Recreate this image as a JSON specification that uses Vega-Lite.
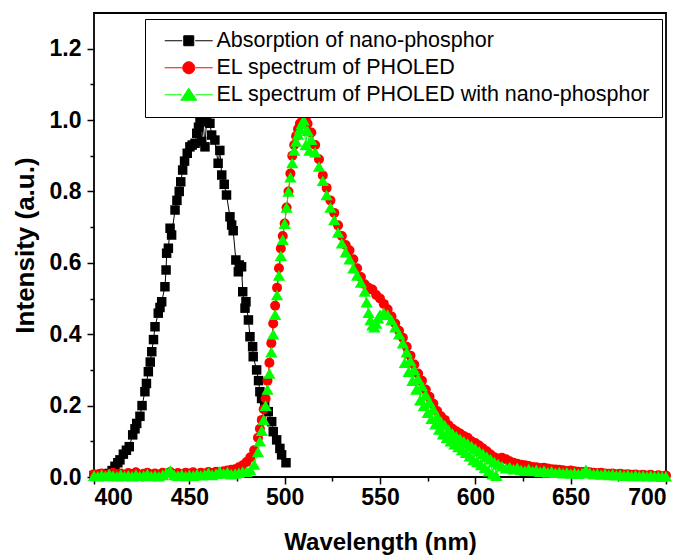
{
 "$schema": "https://vega.github.io/schema/vega-lite/v6.json",
 "width": 572, "height": 464,
 "autosize": "none",
 "padding": {"left": 94, "top": 13, "right": 22, "bottom": 81},
 "background": "white",
 "config": {"view": {"stroke": "black", "strokeWidth": 1.8}, "font": "Liberation Sans"},
 "data": {"values": [
{"s":"abs","x":400,"y":0.004},{"s":"abs","x":402,"y":0.006},{"s":"abs","x":404,"y":0.008},{"s":"abs","x":406,"y":0.006},{"s":"abs","x":408,"y":0.01},{"s":"abs","x":409.5,"y":0.018},{"s":"abs","x":411,"y":0.03},{"s":"abs","x":412.5,"y":0.04},{"s":"abs","x":413.6,"y":0.048},{"s":"abs","x":415.4,"y":0.064},{"s":"abs","x":417,"y":0.075},{"s":"abs","x":418.5,"y":0.085},{"s":"abs","x":420.3,"y":0.118},{"s":"abs","x":421.5,"y":0.135},{"s":"abs","x":422.4,"y":0.15},{"s":"abs","x":424.1,"y":0.17},{"s":"abs","x":425.2,"y":0.2},{"s":"abs","x":426.7,"y":0.239},{"s":"abs","x":427.5,"y":0.262},{"s":"abs","x":428.5,"y":0.295},{"s":"abs","x":429.5,"y":0.322},{"s":"abs","x":430.3,"y":0.351},{"s":"abs","x":431.2,"y":0.385},{"s":"abs","x":432,"y":0.421},{"s":"abs","x":433.7,"y":0.459},{"s":"abs","x":434.6,"y":0.475},{"s":"abs","x":435.5,"y":0.491},{"s":"abs","x":437.2,"y":0.533},{"s":"abs","x":437.8,"y":0.58},{"s":"abs","x":438.1,"y":0.627},{"s":"abs","x":439,"y":0.641},{"s":"abs","x":439.9,"y":0.697},{"s":"abs","x":440.7,"y":0.678},{"s":"abs","x":442.5,"y":0.748},{"s":"abs","x":443.5,"y":0.775},{"s":"abs","x":444.7,"y":0.8},{"s":"abs","x":445.5,"y":0.827},{"s":"abs","x":446.5,"y":0.86},{"s":"abs","x":447.5,"y":0.885},{"s":"abs","x":448.9,"y":0.907},{"s":"abs","x":450.3,"y":0.925},{"s":"abs","x":451.5,"y":0.93},{"s":"abs","x":453,"y":0.935},{"s":"abs","x":453.9,"y":0.963},{"s":"abs","x":454.8,"y":0.98},{"s":"abs","x":455.6,"y":1.0},{"s":"abs","x":456.5,"y":0.94},{"s":"abs","x":457.3,"y":0.995},{"s":"abs","x":458.2,"y":0.925},{"s":"abs","x":459,"y":0.998},{"s":"abs","x":460.8,"y":0.991},{"s":"abs","x":461.7,"y":0.958},{"s":"abs","x":463.4,"y":0.944},{"s":"abs","x":465.1,"y":0.879},{"s":"abs","x":466,"y":0.915},{"s":"abs","x":467,"y":0.846},{"s":"abs","x":468.3,"y":0.82},{"s":"abs","x":469.5,"y":0.79},{"s":"abs","x":471.3,"y":0.729},{"s":"abs","x":472.2,"y":0.706},{"s":"abs","x":473,"y":0.69},{"s":"abs","x":474.4,"y":0.608},{"s":"abs","x":475.7,"y":0.575},{"s":"abs","x":476.2,"y":0.594},{"s":"abs","x":477.4,"y":0.589},{"s":"abs","x":478,"y":0.519},{"s":"abs","x":479.2,"y":0.473},{"s":"abs","x":479.7,"y":0.491},{"s":"abs","x":481,"y":0.44},{"s":"abs","x":481.8,"y":0.393},{"s":"abs","x":483.2,"y":0.365},{"s":"abs","x":483.5,"y":0.337},{"s":"abs","x":485.3,"y":0.3},{"s":"abs","x":486.3,"y":0.27},{"s":"abs","x":487,"y":0.239},{"s":"abs","x":487.9,"y":0.22},{"s":"abs","x":489.5,"y":0.2},{"s":"abs","x":491.4,"y":0.183},{"s":"abs","x":493.2,"y":0.155},{"s":"abs","x":494,"y":0.127},{"s":"abs","x":495.8,"y":0.104},{"s":"abs","x":497.5,"y":0.08},{"s":"abs","x":498.4,"y":0.062},{"s":"abs","x":500.7,"y":0.04},
{"s":"el","x":400,"y":0.008},{"s":"el","x":402,"y":0.006},{"s":"el","x":404,"y":0.01},{"s":"el","x":406,"y":0.005},{"s":"el","x":408,"y":0.009},{"s":"el","x":410,"y":0.012},{"s":"el","x":412,"y":0.007},{"s":"el","x":414,"y":0.01},{"s":"el","x":416,"y":0.006},{"s":"el","x":418,"y":0.011},{"s":"el","x":420,"y":0.008},{"s":"el","x":422,"y":0.013},{"s":"el","x":424,"y":0.006},{"s":"el","x":426,"y":0.009},{"s":"el","x":428,"y":0.012},{"s":"el","x":430,"y":0.007},{"s":"el","x":432,"y":0.01},{"s":"el","x":434,"y":0.006},{"s":"el","x":436,"y":0.012},{"s":"el","x":438,"y":0.009},{"s":"el","x":440,"y":0.014},{"s":"el","x":442,"y":0.008},{"s":"el","x":444,"y":0.011},{"s":"el","x":446,"y":0.007},{"s":"el","x":448,"y":0.012},{"s":"el","x":450,"y":0.01},{"s":"el","x":452,"y":0.013},{"s":"el","x":454,"y":0.008},{"s":"el","x":456,"y":0.012},{"s":"el","x":458,"y":0.01},{"s":"el","x":460,"y":0.014},{"s":"el","x":462,"y":0.011},{"s":"el","x":464,"y":0.015},{"s":"el","x":466,"y":0.012},{"s":"el","x":468,"y":0.016},{"s":"el","x":470,"y":0.018},{"s":"el","x":472,"y":0.02},{"s":"el","x":474,"y":0.022},{"s":"el","x":476,"y":0.027},{"s":"el","x":478,"y":0.033},{"s":"el","x":480,"y":0.042},{"s":"el","x":482,"y":0.055},{"s":"el","x":484,"y":0.075},{"s":"el","x":486,"y":0.11},{"s":"el","x":487,"y":0.135},{"s":"el","x":488,"y":0.16},{"s":"el","x":489,"y":0.19},{"s":"el","x":490,"y":0.22},{"s":"el","x":491,"y":0.27},{"s":"el","x":492,"y":0.32},{"s":"el","x":493,"y":0.375},{"s":"el","x":494,"y":0.43},{"s":"el","x":495,"y":0.48},{"s":"el","x":496,"y":0.53},{"s":"el","x":497,"y":0.585},{"s":"el","x":498,"y":0.64},{"s":"el","x":499,"y":0.675},{"s":"el","x":500,"y":0.71},{"s":"el","x":501,"y":0.755},{"s":"el","x":502,"y":0.8},{"s":"el","x":503,"y":0.85},{"s":"el","x":504,"y":0.9},{"s":"el","x":505,"y":0.93},{"s":"el","x":506,"y":0.955},{"s":"el","x":507,"y":0.975},{"s":"el","x":508,"y":0.99},{"s":"el","x":509,"y":0.995},{"s":"el","x":510,"y":1.0},{"s":"el","x":511,"y":1.005},{"s":"el","x":512,"y":0.99},{"s":"el","x":514,"y":0.965},{"s":"el","x":516,"y":0.93},{"s":"el","x":518,"y":0.89},{"s":"el","x":520,"y":0.845},{"s":"el","x":522,"y":0.81},{"s":"el","x":524,"y":0.775},{"s":"el","x":526,"y":0.74},{"s":"el","x":528,"y":0.705},{"s":"el","x":530,"y":0.675},{"s":"el","x":532,"y":0.65},{"s":"el","x":534,"y":0.635},{"s":"el","x":536,"y":0.61},{"s":"el","x":538,"y":0.585},{"s":"el","x":540,"y":0.56},{"s":"el","x":542,"y":0.54},{"s":"el","x":544,"y":0.53},{"s":"el","x":546,"y":0.525},{"s":"el","x":548,"y":0.51},{"s":"el","x":550,"y":0.5},{"s":"el","x":552,"y":0.485},{"s":"el","x":554,"y":0.47},{"s":"el","x":556,"y":0.45},{"s":"el","x":558,"y":0.43},{"s":"el","x":560,"y":0.41},{"s":"el","x":562,"y":0.39},{"s":"el","x":564,"y":0.365},{"s":"el","x":566,"y":0.34},{"s":"el","x":568,"y":0.315},{"s":"el","x":570,"y":0.29},{"s":"el","x":572,"y":0.27},{"s":"el","x":574,"y":0.245},{"s":"el","x":576,"y":0.225},{"s":"el","x":578,"y":0.205},{"s":"el","x":580,"y":0.185},{"s":"el","x":582,"y":0.17},{"s":"el","x":584,"y":0.16},{"s":"el","x":586,"y":0.145},{"s":"el","x":588,"y":0.135},{"s":"el","x":590,"y":0.128},{"s":"el","x":592,"y":0.122},{"s":"el","x":594,"y":0.115},{"s":"el","x":596,"y":0.11},{"s":"el","x":598,"y":0.1},{"s":"el","x":600,"y":0.095},{"s":"el","x":602,"y":0.088},{"s":"el","x":604,"y":0.08},{"s":"el","x":606,"y":0.072},{"s":"el","x":608,"y":0.063},{"s":"el","x":610,"y":0.055},{"s":"el","x":612,"y":0.052},{"s":"el","x":614,"y":0.054},{"s":"el","x":616,"y":0.05},{"s":"el","x":618,"y":0.044},{"s":"el","x":620,"y":0.04},{"s":"el","x":622,"y":0.037},{"s":"el","x":624,"y":0.034},{"s":"el","x":626,"y":0.033},{"s":"el","x":628,"y":0.031},{"s":"el","x":630,"y":0.028},{"s":"el","x":632,"y":0.027},{"s":"el","x":634,"y":0.025},{"s":"el","x":636,"y":0.026},{"s":"el","x":638,"y":0.024},{"s":"el","x":640,"y":0.022},{"s":"el","x":642,"y":0.021},{"s":"el","x":644,"y":0.02},{"s":"el","x":646,"y":0.019},{"s":"el","x":648,"y":0.017},{"s":"el","x":650,"y":0.018},{"s":"el","x":652,"y":0.016},{"s":"el","x":654,"y":0.015},{"s":"el","x":656,"y":0.014},{"s":"el","x":658,"y":0.015},{"s":"el","x":660,"y":0.013},{"s":"el","x":662,"y":0.012},{"s":"el","x":664,"y":0.011},{"s":"el","x":666,"y":0.012},{"s":"el","x":668,"y":0.01},{"s":"el","x":670,"y":0.009},{"s":"el","x":672,"y":0.01},{"s":"el","x":674,"y":0.008},{"s":"el","x":676,"y":0.009},{"s":"el","x":678,"y":0.007},{"s":"el","x":680,"y":0.008},{"s":"el","x":682,"y":0.006},{"s":"el","x":684,"y":0.007},{"s":"el","x":686,"y":0.005},{"s":"el","x":688,"y":0.006},{"s":"el","x":690,"y":0.004},{"s":"el","x":692,"y":0.006},{"s":"el","x":694,"y":0.003},{"s":"el","x":696,"y":0.005},{"s":"el","x":698,"y":0.002},{"s":"el","x":700,"y":0.004},
{"s":"elnp","x":400,"y":0.004},{"s":"elnp","x":402,"y":0.002},{"s":"elnp","x":404,"y":0.006},{"s":"elnp","x":406,"y":0.003},{"s":"elnp","x":408,"y":0.008},{"s":"elnp","x":410,"y":0.004},{"s":"elnp","x":412,"y":0.002},{"s":"elnp","x":414,"y":0.007},{"s":"elnp","x":416,"y":0.003},{"s":"elnp","x":418,"y":0.005},{"s":"elnp","x":420,"y":0.002},{"s":"elnp","x":422,"y":0.006},{"s":"elnp","x":424,"y":0.003},{"s":"elnp","x":426,"y":0.004},{"s":"elnp","x":428,"y":0.008},{"s":"elnp","x":430,"y":0.003},{"s":"elnp","x":432,"y":0.005},{"s":"elnp","x":434,"y":0.002},{"s":"elnp","x":436,"y":0.006},{"s":"elnp","x":438,"y":0.012},{"s":"elnp","x":440,"y":0.018},{"s":"elnp","x":442,"y":0.006},{"s":"elnp","x":444,"y":0.004},{"s":"elnp","x":446,"y":0.007},{"s":"elnp","x":448,"y":0.003},{"s":"elnp","x":450,"y":0.006},{"s":"elnp","x":452,"y":0.004},{"s":"elnp","x":454,"y":0.008},{"s":"elnp","x":456,"y":0.005},{"s":"elnp","x":458,"y":0.007},{"s":"elnp","x":460,"y":0.012},{"s":"elnp","x":462,"y":0.006},{"s":"elnp","x":464,"y":0.009},{"s":"elnp","x":466,"y":0.016},{"s":"elnp","x":468,"y":0.01},{"s":"elnp","x":470,"y":0.014},{"s":"elnp","x":472,"y":0.008},{"s":"elnp","x":474,"y":0.01},{"s":"elnp","x":476,"y":0.012},{"s":"elnp","x":478,"y":0.015},{"s":"elnp","x":480,"y":0.015},{"s":"elnp","x":482,"y":0.02},{"s":"elnp","x":484,"y":0.035},{"s":"elnp","x":486,"y":0.07},{"s":"elnp","x":487,"y":0.1},{"s":"elnp","x":488,"y":0.13},{"s":"elnp","x":489,"y":0.16},{"s":"elnp","x":490,"y":0.2},{"s":"elnp","x":491,"y":0.245},{"s":"elnp","x":492,"y":0.29},{"s":"elnp","x":493,"y":0.35},{"s":"elnp","x":494,"y":0.4},{"s":"elnp","x":495,"y":0.455},{"s":"elnp","x":496,"y":0.51},{"s":"elnp","x":497,"y":0.565},{"s":"elnp","x":498,"y":0.62},{"s":"elnp","x":499,"y":0.665},{"s":"elnp","x":500,"y":0.71},{"s":"elnp","x":501,"y":0.755},{"s":"elnp","x":502,"y":0.8},{"s":"elnp","x":503,"y":0.84},{"s":"elnp","x":504,"y":0.88},{"s":"elnp","x":505,"y":0.915},{"s":"elnp","x":506,"y":0.94},{"s":"elnp","x":507,"y":0.96},{"s":"elnp","x":508,"y":0.975},{"s":"elnp","x":509,"y":0.99},{"s":"elnp","x":510,"y":1.0},{"s":"elnp","x":511,"y":0.93},{"s":"elnp","x":512,"y":0.97},{"s":"elnp","x":513,"y":0.915},{"s":"elnp","x":514,"y":0.945},{"s":"elnp","x":516,"y":0.91},{"s":"elnp","x":518,"y":0.87},{"s":"elnp","x":520,"y":0.83},{"s":"elnp","x":522,"y":0.79},{"s":"elnp","x":524,"y":0.755},{"s":"elnp","x":526,"y":0.72},{"s":"elnp","x":528,"y":0.685},{"s":"elnp","x":530,"y":0.655},{"s":"elnp","x":532,"y":0.63},{"s":"elnp","x":534,"y":0.61},{"s":"elnp","x":536,"y":0.585},{"s":"elnp","x":538,"y":0.565},{"s":"elnp","x":540,"y":0.545},{"s":"elnp","x":542,"y":0.52},{"s":"elnp","x":543,"y":0.49},{"s":"elnp","x":544,"y":0.46},{"s":"elnp","x":545,"y":0.44},{"s":"elnp","x":546,"y":0.425},{"s":"elnp","x":547,"y":0.42},{"s":"elnp","x":548,"y":0.43},{"s":"elnp","x":549,"y":0.445},{"s":"elnp","x":550,"y":0.455},{"s":"elnp","x":552,"y":0.46},{"s":"elnp","x":554,"y":0.455},{"s":"elnp","x":556,"y":0.44},{"s":"elnp","x":558,"y":0.42},{"s":"elnp","x":560,"y":0.4},{"s":"elnp","x":562,"y":0.375},{"s":"elnp","x":563,"y":0.32},{"s":"elnp","x":564,"y":0.35},{"s":"elnp","x":565,"y":0.295},{"s":"elnp","x":566,"y":0.325},{"s":"elnp","x":567,"y":0.27},{"s":"elnp","x":568,"y":0.3},{"s":"elnp","x":569,"y":0.245},{"s":"elnp","x":570,"y":0.275},{"s":"elnp","x":571,"y":0.215},{"s":"elnp","x":572,"y":0.255},{"s":"elnp","x":573,"y":0.2},{"s":"elnp","x":574,"y":0.23},{"s":"elnp","x":575,"y":0.18},{"s":"elnp","x":576,"y":0.21},{"s":"elnp","x":577,"y":0.163},{"s":"elnp","x":578,"y":0.19},{"s":"elnp","x":579,"y":0.148},{"s":"elnp","x":580,"y":0.17},{"s":"elnp","x":581,"y":0.133},{"s":"elnp","x":582,"y":0.155},{"s":"elnp","x":583,"y":0.12},{"s":"elnp","x":584,"y":0.145},{"s":"elnp","x":585,"y":0.11},{"s":"elnp","x":586,"y":0.132},{"s":"elnp","x":587,"y":0.1},{"s":"elnp","x":588,"y":0.122},{"s":"elnp","x":589,"y":0.092},{"s":"elnp","x":590,"y":0.114},{"s":"elnp","x":591,"y":0.084},{"s":"elnp","x":592,"y":0.107},{"s":"elnp","x":593,"y":0.076},{"s":"elnp","x":594,"y":0.1},{"s":"elnp","x":595,"y":0.068},{"s":"elnp","x":596,"y":0.094},{"s":"elnp","x":597,"y":0.058},{"s":"elnp","x":598,"y":0.087},{"s":"elnp","x":599,"y":0.048},{"s":"elnp","x":600,"y":0.08},{"s":"elnp","x":601,"y":0.042},{"s":"elnp","x":602,"y":0.072},{"s":"elnp","x":603,"y":0.034},{"s":"elnp","x":604,"y":0.065},{"s":"elnp","x":605,"y":0.026},{"s":"elnp","x":606,"y":0.057},{"s":"elnp","x":607,"y":0.016},{"s":"elnp","x":608,"y":0.05},{"s":"elnp","x":609,"y":0.008},{"s":"elnp","x":610,"y":0.042},{"s":"elnp","x":611,"y":0.004},{"s":"elnp","x":612,"y":0.036},{"s":"elnp","x":614,"y":0.03},{"s":"elnp","x":616,"y":0.025},{"s":"elnp","x":618,"y":0.028},{"s":"elnp","x":620,"y":0.022},{"s":"elnp","x":622,"y":0.026},{"s":"elnp","x":624,"y":0.02},{"s":"elnp","x":626,"y":0.018},{"s":"elnp","x":628,"y":0.022},{"s":"elnp","x":630,"y":0.017},{"s":"elnp","x":632,"y":0.02},{"s":"elnp","x":634,"y":0.015},{"s":"elnp","x":636,"y":0.018},{"s":"elnp","x":638,"y":0.013},{"s":"elnp","x":640,"y":0.016},{"s":"elnp","x":642,"y":0.012},{"s":"elnp","x":644,"y":0.014},{"s":"elnp","x":646,"y":0.011},{"s":"elnp","x":648,"y":0.013},{"s":"elnp","x":650,"y":0.01},{"s":"elnp","x":652,"y":0.012},{"s":"elnp","x":654,"y":0.009},{"s":"elnp","x":656,"y":0.011},{"s":"elnp","x":658,"y":0.02},{"s":"elnp","x":660,"y":0.012},{"s":"elnp","x":662,"y":0.008},{"s":"elnp","x":664,"y":0.01},{"s":"elnp","x":666,"y":0.007},{"s":"elnp","x":668,"y":0.009},{"s":"elnp","x":670,"y":0.006},{"s":"elnp","x":672,"y":0.008},{"s":"elnp","x":674,"y":0.005},{"s":"elnp","x":676,"y":0.007},{"s":"elnp","x":678,"y":0.004},{"s":"elnp","x":680,"y":0.006},{"s":"elnp","x":682,"y":0.003},{"s":"elnp","x":684,"y":0.005},{"s":"elnp","x":686,"y":0.003},{"s":"elnp","x":688,"y":0.004},{"s":"elnp","x":690,"y":0.002},{"s":"elnp","x":692,"y":0.004},{"s":"elnp","x":694,"y":0.002},{"s":"elnp","x":696,"y":0.003},{"s":"elnp","x":698,"y":0.001},{"s":"elnp","x":700,"y":0.002}
 ]},
 "resolve": {"axis": {"x": "independent", "y": "independent"}},
 "layer": [
  {
   "mark": {"type": "line", "strokeWidth": 1},
   "encoding": {
    "x": {"field": "x", "type": "quantitative",
      "scale": {"domain": [400, 700], "nice": false, "zero": false},
      "axis": {"orient": "bottom", "values": [400, 450, 500, 550, 600, 650, 700], "domain": false, "grid": false,
        "tickColor": "black", "tickWidth": 1.5, "tickSize": 7,
        "labelFont": "Liberation Sans", "labelFontWeight": "bold", "labelFontSize": 23, "labelColor": "black", "labelPadding": 2,
        "title": "Wavelength (nm)", "titleFont": "Liberation Sans", "titleFontWeight": "bold", "titleFontSize": 24, "titleColor": "black", "titlePadding": 21}},
    "y": {"field": "y", "type": "quantitative",
      "scale": {"domain": [0, 1.3], "nice": false, "zero": true},
      "axis": {"orient": "left", "values": [0, 0.2, 0.4, 0.6, 0.8, 1.0, 1.2], "format": ".1f", "domain": false, "grid": false,
        "tickColor": "black", "tickWidth": 1.5, "tickSize": 7,
        "labelFont": "Liberation Sans", "labelFontWeight": "bold", "labelFontSize": 23, "labelColor": "black", "labelPadding": 6,
        "title": "Intensity (a.u.)", "titleFont": "Liberation Sans", "titleFontWeight": "bold", "titleFontSize": 26, "titleColor": "black", "titlePadding": 11}},
    "color": {"field": "s", "type": "nominal",
      "scale": {"domain": ["abs", "el", "elnp"], "range": ["#000000", "#ff0000", "#00ff00"]},
      "legend": {"title": null, "orient": "none", "legendX": 51, "legendY": 6,
        "padding": 11, "strokeColor": "black", "fillColor": "white", "cornerRadius": 0,
        "symbolSize": 100, "symbolOffset": 22, "labelOffset": 17, "rowPadding": 4,
        "labelFont": "Liberation Sans", "labelFontSize": 21.5, "labelColor": "black", "labelLimit": 0,
        "labelExpr": "datum.label == 'abs' ? 'Absorption of nano-phosphor' : datum.label == 'el' ? 'EL spectrum of PHOLED' : 'EL spectrum of PHOLED with nano-phosphor'",
        "encode": {"symbols": {"update": {
          "shape": {"signal": "datum.value == 'abs' ? 'M-4.8,0H-1.3M1.3,0H4.8M-1,-1H1V1H-1Z' : datum.value == 'el' ? 'M-4.8,0H-1.3M1.3,0H4.8M-1.2,0A1.2,1.2,0,1,0,1.2,0A1.2,1.2,0,1,0,-1.2,0Z' : 'M-4.8,0H-1.4M1.4,0H4.8M0,-1.3L1.6,1.1H-1.6Z'"},
          "fill": {"scale": "color", "field": "value"},
          "stroke": {"scale": "color", "field": "value"},
          "strokeWidth": {"value": 1},
          "strokeDash": {"value": []},
          "opacity": {"value": 1}}}}}}
   }
  },
  {
   "transform": [{"filter": "datum.s == 'abs'"}],
   "mark": {"type": "point", "filled": true, "opacity": 1, "strokeWidth": 0, "shape": "square", "size": 90, "color": "#000000"},
   "encoding": {
    "x": {"field": "x", "type": "quantitative",
      "axis": {"orient": "bottom", "values": [425, 475, 525, 575, 625, 675], "labels": false, "domain": false, "grid": false,
        "tickColor": "black", "tickWidth": 1.5, "tickSize": 4, "title": null}},
    "y": {"field": "y", "type": "quantitative",
      "axis": {"orient": "left", "values": [0.1, 0.3, 0.5, 0.7, 0.9, 1.1], "labels": false, "domain": false, "grid": false,
        "tickColor": "black", "tickWidth": 1.5, "tickSize": 4, "title": null}}
   }
  },
  {
   "transform": [{"filter": "datum.s == 'el'"}],
   "mark": {"type": "point", "filled": true, "opacity": 1, "strokeWidth": 0, "shape": "circle", "size": 100, "color": "#ff0000"},
   "encoding": {
    "x": {"field": "x", "type": "quantitative", "axis": null},
    "y": {"field": "y", "type": "quantitative", "axis": null}
   }
  },
  {
   "transform": [{"filter": "datum.s == 'elnp'"}],
   "mark": {"type": "point", "filled": true, "opacity": 1, "strokeWidth": 0, "shape": "triangle-up", "size": 150, "color": "#00ff00"},
   "encoding": {
    "x": {"field": "x", "type": "quantitative", "axis": null},
    "y": {"field": "y", "type": "quantitative", "axis": null}
   }
  }
 ]
}
